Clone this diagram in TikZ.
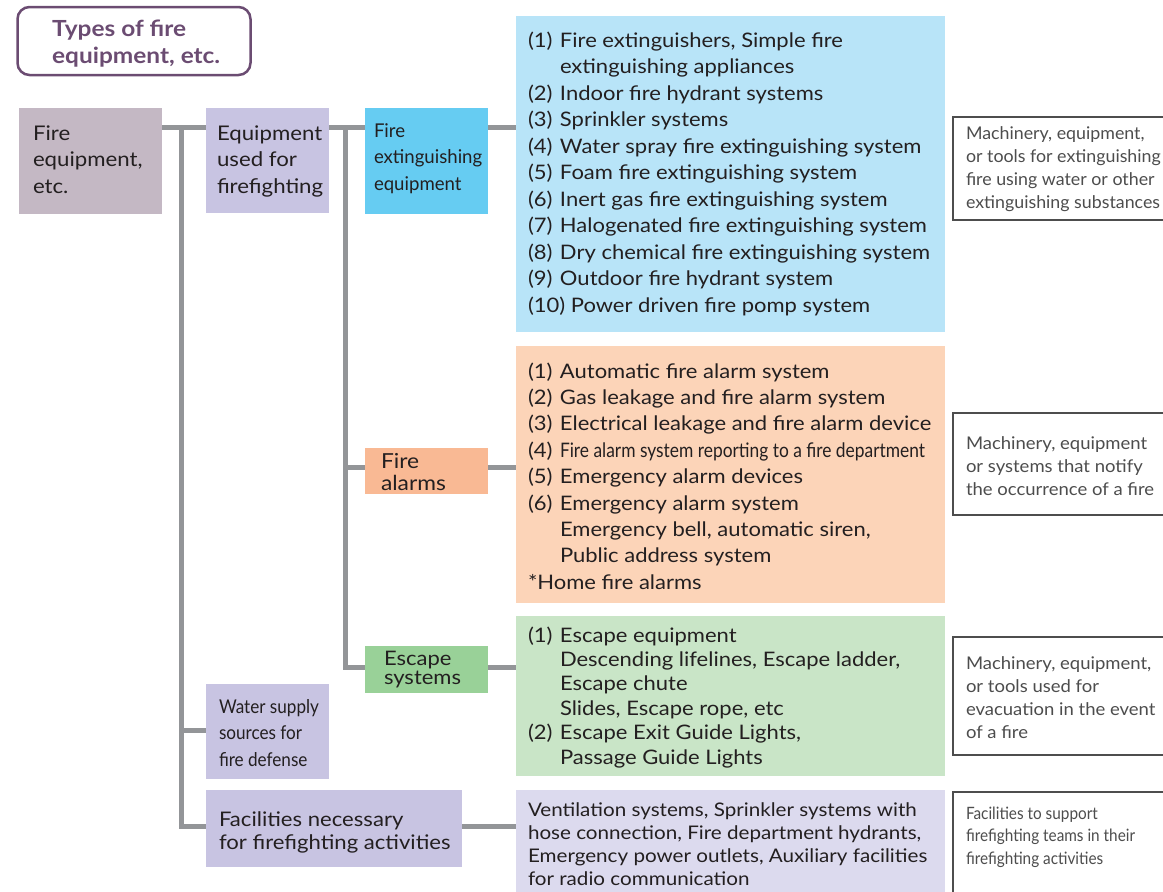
\documentclass[tikz,border=0pt]{standalone}
\usepackage{fontspec}
\usepackage{graphicx}
\setmainfont{Lato}[FakeStretch=1.1]
\definecolor{textc}{RGB}{35,31,32}
\definecolor{descc}{RGB}{77,77,77}
\definecolor{titlec}{RGB}{107,76,114}
\definecolor{connc}{RGB}{147,149,152}
\definecolor{rootc}{RGB}{196,184,196}
\definecolor{lavc}{RGB}{200,196,226}
\definecolor{cyanc}{RGB}{102,204,242}
\definecolor{bluec}{RGB}{184,228,248}
\definecolor{alarmc}{RGB}{249,185,148}
\definecolor{orangec}{RGB}{252,212,184}
\definecolor{escc}{RGB}{153,209,152}
\definecolor{greenc}{RGB}{201,229,199}
\definecolor{lavlc}{RGB}{220,218,238}
\newcommand\tlines[2]{\vtop{\baselineskip=#1pt\lineskiplimit=-100pt\lineskip=0pt #2}}
\newcommand\cond[2]{\scalebox{#1}[1]{#2}}
\newcommand\itm[2]{\hbox{\makebox[32pt][l]{#1}#2}}
\newcommand\cnt[1]{\hbox{\hspace*{32pt}#1}}
\newcommand\dl[1]{\hbox{\cond{0.96}{#1}}}
\newcommand\dla[1]{\hbox{\cond{0.925}{#1}}}
\tikzset{
  bx/.style={anchor=north west, inner sep=0, outer sep=0, draw=none},
  txt/.style={anchor=base west, inner sep=0, outer sep=0, text=textc, font=\fontsize{20}{26}\selectfont},
  dtxt/.style={anchor=base west, inner sep=0, outer sep=0, text=descc, font=\fontsize{17.5}{23}\selectfont},
  desc/.style={anchor=north west, inner sep=0, outer sep=0, draw=descc, line width=1.3pt, fill=white},
  conn/.style={draw=connc, line width=5pt},
}
\begin{document}
\begin{tikzpicture}[x=1pt,y=-1pt]
\useasboundingbox (0,0) rectangle (1163,892);
\clip (0,0) rectangle (1163,892);
% title
\node[bx, draw=titlec, line width=2.5pt, rounded corners=12pt, minimum width=233, minimum height=68] (title) at (17.5,7) {};
\node[anchor=base west, inner sep=0, text=titlec, font=\bfseries\fontsize{22.2}{27}\selectfont] (titletxt) at (52,36) {\tlines{27}{\hbox{Types of fire}\hbox{equipment, etc.}}};
% boxes
\node[bx, fill=rootc, minimum width=143, minimum height=106] (root) at (19,108) {};
\node[bx, fill=lavc, minimum width=123, minimum height=105] (eq) at (206,108) {};
\node[bx, fill=cyanc, minimum width=123, minimum height=106] (ext) at (365,108) {};
\node[bx, fill=alarmc, minimum width=123, minimum height=46] (alarm) at (365,448) {};
\node[bx, fill=escc, minimum width=123, minimum height=47] (esc) at (365,646) {};
\node[bx, fill=lavc, minimum width=123, minimum height=95] (water) at (206,684) {};
\node[bx, fill=lavc, minimum width=256, minimum height=77] (fac) at (206,790) {};
\node[bx, fill=bluec, minimum width=429, minimum height=316] (bl) at (516,16) {};
\node[bx, fill=orangec, minimum width=429, minimum height=257] (ol) at (516,346) {};
\node[bx, fill=greenc, minimum width=429, minimum height=160] (gl) at (516,616) {};
\node[bx, fill=lavlc, minimum width=429, minimum height=120] (ll) at (516,790) {};
\node[desc, minimum width=240, minimum height=103] (d1) at (953,117) {};
\node[desc, minimum width=240, minimum height=102] (d2) at (953,413) {};
\node[desc, minimum width=240, minimum height=118] (d3) at (953,637) {};
\node[desc, minimum width=240, minimum height=130] (d4) at (953,792) {};
% connectors
\coordinate (j1) at (181.5,127);
\coordinate (j2) at (345.5,127);
\coordinate (jw) at (181.5,730.5);
\coordinate (jf) at (181.5,826);
\coordinate (ja) at (345.5,467.5);
\coordinate (je) at (345.5,667);
\draw[conn] (root.east |- j1) -- (eq.west |- j1);
\draw[conn] (eq.east |- j2) -- (ext.west |- j2);
\draw[conn] (ext.east |- j2) -- (bl.west |- j2);
\draw[conn] (j1) -- (jf) -- (fac.west |- jf);
\draw[conn] (jw) -- (water.west |- jw);
\draw[conn] (j2) -- (je) -- (esc.west |- je);
\draw[conn] (ja) -- (alarm.west |- ja);
\draw[conn] (alarm.east |- ja) -- (ol.west |- ja);
\draw[conn] (esc.east |- je) -- (gl.west |- je);
\draw[conn] (fac.east |- jf) -- (ll.west |- jf);
% box texts
\node[txt, font=\fontsize{20.2}{26}\selectfont] (roottxt) at (33,140) {\tlines{26.5}{\hbox{Fire}\hbox{equipment,}\hbox{etc.}}};
\node[txt, font=\fontsize{20.2}{26}\selectfont] (eqtxt) at (217,140) {\tlines{26.5}{\hbox{Equipment}\hbox{used for}\hbox{firefighting}}};
\node[txt, font=\fontsize{19}{26}\selectfont] (exttxt) at (374,137) {\tlines{26.5}{\hbox{\cond{0.89}{Fire}}\hbox{\cond{0.89}{extinguishing}}\hbox{\cond{0.89}{equipment}}}};
\node[txt, font=\fontsize{20.7}{22}\selectfont] (alarmtxt) at (381,468) {\tlines{22}{\hbox{Fire}\hbox{alarms}}};
\node[txt, font=\fontsize{20}{19.5}\selectfont] (esctxt) at (384,665) {\tlines{19.5}{\hbox{Escape}\hbox{systems}}};
\node[txt, font=\fontsize{19}{26}\selectfont] (watertxt) at (219,713) {\tlines{26.5}{\hbox{\cond{0.82}{Water supply}}\hbox{\cond{0.82}{sources for}}\hbox{\cond{0.82}{fire defense}}}};
\node[txt, font=\fontsize{20.1}{23.5}\selectfont] (factxt) at (219,826) {\tlines{23.5}{\hbox{Facilities necessary}\hbox{for firefighting activities}}};
% lists
\node[txt] (bltxt) at (528,47) {\tlines{26.5}{%
\itm{(1)}{Fire extinguishers, Simple fire}
\cnt{extinguishing appliances}
\itm{(2)}{Indoor fire hydrant systems}
\itm{(3)}{Sprinkler systems}
\itm{(4)}{Water spray fire extinguishing system}
\itm{(5)}{Foam fire extinguishing system}
\itm{(6)}{Inert gas fire extinguishing system}
\itm{(7)}{Halogenated fire extinguishing system}
\itm{(8)}{Dry chemical fire extinguishing system}
\itm{(9)}{Outdoor fire hydrant system}
\hbox{(10) Power driven fire pomp system}}};
\node[txt] (oltxt) at (528,378) {\tlines{26.4}{%
\itm{(1)}{Automatic fire alarm system}
\itm{(2)}{Gas leakage and fire alarm system}
\itm{(3)}{Electrical leakage and fire alarm device}
\hbox{\makebox[32pt][l]{(4)}\cond{0.79}{Fire alarm system reporting to a fire department}}
\itm{(5)}{Emergency alarm devices}
\itm{(6)}{Emergency alarm system}
\cnt{Emergency bell, automatic siren,}
\cnt{Public address system}
\hbox{*Home fire alarms}}};
\node[txt] (gltxt) at (528,642) {\tlines{24.4}{%
\itm{(1)}{Escape equipment}
\cnt{Descending lifelines, Escape ladder,}
\cnt{Escape chute}
\cnt{Slides, Escape rope, etc}
\itm{(2)}{Escape Exit Guide Lights,}
\cnt{Passage Guide Lights}}};
\node[txt, font=\fontsize{18.75}{23}\selectfont] (lltxt) at (528,816) {\tlines{23}{%
\hbox{Ventilation systems, Sprinkler systems with}
\hbox{hose connection, Fire department hydrants,}
\hbox{Emergency power outlets, Auxiliary facilities}
\hbox{for radio communication}}};
% descriptions
\node[dtxt] (d1txt) at (966,139.3) {\tlines{23}{\dla{Machinery, equipment,}\dla{or tools for extinguishing}\dla{fire using water or other}\dla{extinguishing substances}}};
\node[dtxt] (d2txt) at (966,449.3) {\tlines{23}{\dl{Machinery, equipment}\dl{or systems that notify}\dl{the occurrence of a fire}}};
\node[dtxt] (d3txt) at (966,669.3) {\tlines{23}{\dl{Machinery, equipment,}\dl{or tools used for}\dl{evacuation in the event}\dl{of a fire}}};
\node[dtxt, font=\fontsize{17}{22.5}\selectfont] (d4txt) at (966,819) {\tlines{22.5}{\hbox{\cond{0.82}{Facilities to support}}\hbox{\cond{0.82}{firefighting teams in their}}\hbox{\cond{0.82}{firefighting activities}}}};
\end{tikzpicture}
\end{document}
